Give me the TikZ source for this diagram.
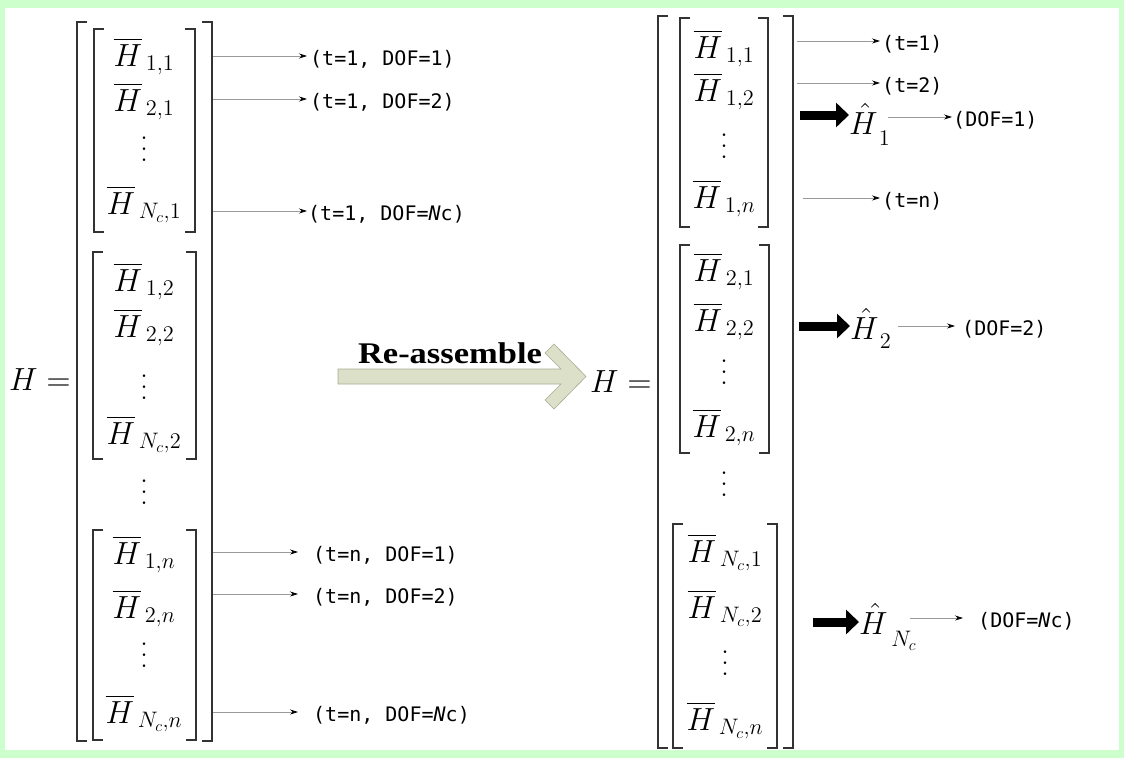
\documentclass[tikz,border=0pt]{standalone}
\usepackage{fontspec}
\usepackage{tikz}
\usetikzlibrary{arrows.meta,positioning}
\DeclareFontShape{OML}{cmm}{m}{it}{<-7>cmmi5 <7-10>cmmi7 <10-12>cmmi10 <12->cmmi12}{}
\DeclareFontShape{OMS}{cmsy}{m}{n}{<-7>cmsy5 <7-10>cmsy7 <10->cmsy10}{}
\DeclareFontShape{OT1}{cmr}{m}{n}{<-7>cmr5 <7-10>cmr7 <10-12>cmr10 <12->cmr12}{}
\DeclareFontShape{OMX}{cmex}{m}{n}{<->cmex10}{}
\newfontfamily\lblfont{DejaVu Sans Mono}
\newfontfamily\titlefont[FakeStretch=1.15]{Liberation Serif}
\definecolor{frame}{HTML}{CCFFCC}
\definecolor{band}{HTML}{DCE0C8}
\definecolor{bandline}{HTML}{A8AC96}
\definecolor{wire}{HTML}{9A9A9A}
\newcommand\vdd{\vbox{\baselineskip=11pt\lineskiplimit=0pt\hbox{.}\hbox{.}\hbox{.}}}

\begin{document}
\begin{tikzpicture}[x=1pt,y=-1pt,>=Latex,
    brk/.style={line width=1.3pt,draw=black!80},
    ent/.style={inner sep=0pt,anchor=base,font=\fontsize{32}{36}\selectfont},
    vd/.style={inner sep=0pt,font=\fontsize{32}{36}\selectfont},
    hatnode/.style={inner sep=0pt,anchor=base west,font=\fontsize{32}{36}\selectfont},
    lbl/.style={inner sep=0pt,anchor=west,font=\lblfont\fontsize{20}{24}\selectfont},
    wirearrow/.style={draw=wire,line width=0.7pt,-{Stealth[length=8pt,width=5pt,black]}},
    fat/.style={line width=9pt,-{Triangle[length=13pt,width=24pt]}}]
    \useasboundingbox (0,0) rectangle (1124,758);
    \fill[frame] (0,0) rectangle (1124,758);
    \fill[white] (5,8) rectangle (1119,750);

    % brackets
    \foreach \xl/\xr/\yt/\yb in {77/212/22/741, 94/195/29/232, 93/196/252/459, 93/196/530/740,
                                 658/793/16/748, 680/768/18/227, 680/769/245/453, 673/777/524/748} {
        \draw[brk] (\xl+10,\yt) -- (\xl,\yt) -- (\xl,\yb) -- (\xl+10,\yb);
        \draw[brk] (\xr-10,\yt) -- (\xr,\yt) -- (\xr,\yb) -- (\xr-10,\yb);
    }

    % left vector
    \node[ent] (lhs) at (40,390) {$H=$};
    \node[ent] (l11) at (144,66) {$\overline{H}_{\,1,1}$};
    \node[ent] (l21) at (144,111) {$\overline{H}_{\,2,1}$};
    \node[vd] (lv1) at (144,149) {\vdd};
    \node[ent] (lc1) at (144,214) {$\overline{H}_{\,N_c,1}$};
    \node[ent] (l12) at (144,291) {$\overline{H}_{\,1,2}$};
    \node[ent] (l22) at (144,337) {$\overline{H}_{\,2,2}$};
    \node[vd] (lv2) at (144,387) {\vdd};
    \node[ent] (lc2) at (144,444) {$\overline{H}_{\,N_c,2}$};
    \node[vd] (lvv) at (144,492) {\vdd};
    \node[ent] (l1n) at (144,564) {$\overline{H}_{\,1,n}$};
    \node[ent] (l2n) at (144,618) {$\overline{H}_{\,2,n}$};
    \node[vd] (lv3) at (144,655) {\vdd};
    \node[ent] (lcn) at (144,723) {$\overline{H}_{\,N_c,n}$};

    \coordinate (sa) at (213,56);
    \coordinate (sb) at (213,99);
    \coordinate (sc) at (213,211);
    \coordinate (sd) at (213,552);
    \coordinate (se) at (213,594);
    \coordinate (sf) at (213,712);
    \node[lbl] (ta) at (310,59) {(t=1, DOF=1)};
    \node[lbl] (tb) at (310,102) {(t=1, DOF=2)};
    \node[lbl] (tc) at (308,214) {(t=1, DOF=\textit{N}c)};
    \node[lbl] (td) at (313,555) {(t=n, DOF=1)};
    \node[lbl] (te) at (313,597) {(t=n, DOF=2)};
    \node[lbl] (tf) at (313,715) {(t=n, DOF=\textit{N}c)};
    \draw[wirearrow,shorten >=3pt] (sa) -- (sa -| ta.west);
    \draw[wirearrow,shorten >=3pt] (sb) -- (sb -| tb.west);
    \draw[wirearrow,shorten >=1pt] (sc) -- (sc -| tc.west);
    \draw[wirearrow,shorten >=15pt] (sd) -- (sd -| td.west);
    \draw[wirearrow,shorten >=15pt] (se) -- (se -| te.west);
    \draw[wirearrow,shorten >=15pt] (sf) -- (sf -| tf.west);

    % re-assemble arrow
    \filldraw[fill=band,draw=bandline,line width=0.6pt]
        (338,369) -- (561,369) -- (545,353) -- (554,344) -- (586,376.5)
        -- (554,409) -- (545,400) -- (561,384) -- (338,384) -- cycle;
    \node[font=\titlefont\bfseries\fontsize{30}{34}\selectfont,anchor=base,inner sep=0pt]
        (title) at (450,363) {Re-assemble};

    % right vector
    \node[ent] (rhs) at (621,392) {$H=$};
    \node[ent] (r11) at (724,58) {$\overline{H}_{\,1,1}$};
    \node[ent] (r12) at (724,101) {$\overline{H}_{\,1,2}$};
    \node[vd] (rv1) at (724,146) {\vdd};
    \node[ent] (r1n) at (724,208) {$\overline{H}_{\,1,n}$};
    \node[ent] (r21) at (724,281) {$\overline{H}_{\,2,1}$};
    \node[ent] (r22) at (724,331) {$\overline{H}_{\,2,2}$};
    \node[vd] (rv2) at (724,372) {\vdd};
    \node[ent] (r2n) at (724,437) {$\overline{H}_{\,2,n}$};
    \node[vd] (rvv) at (724,484) {\vdd};
    \node[ent] (rc1) at (725,562) {$\overline{H}_{\,N_c,1}$};
    \node[ent] (rc2) at (725,618) {$\overline{H}_{\,N_c,2}$};
    \node[vd] (rv3) at (725,663) {\vdd};
    \node[ent] (rcn) at (725,730) {$\overline{H}_{\,N_c,n}$};

    \coordinate (ua) at (797,41);
    \coordinate (ub) at (797,83);
    \coordinate (uc) at (803,198);
    \node[lbl] (va) at (882,44) {(t=1)};
    \node[lbl] (vb) at (882,86) {(t=2)};
    \node[lbl] (vc) at (882,201) {(t=n)};
    \draw[wirearrow,shorten >=2pt] (ua) -- (ua -| va.west);
    \draw[wirearrow,shorten >=2pt] (ub) -- (ub -| vb.west);
    \draw[wirearrow,shorten >=2pt] (uc) -- (uc -| vc.west);

    % per-DOF blocks
    \node[hatnode] (h1) at (849,134) {$\hat{H}_{\,\raisebox{-7pt}{$\scriptstyle 1$}}$};
    \node[hatnode] (h2) at (850,339) {$\hat{H}_{\,\raisebox{-5pt}{$\scriptstyle 2$}}$};
    \node[hatnode] (hc) at (859,634) {$\hat{H}_{\;\raisebox{-8pt}{$\scriptstyle N_c$}}$};
    \coordinate (f1) at (800,115);
    \coordinate (f2) at (799,326);
    \coordinate (fc) at (813,622);
    \draw[fat] (f1) -- (f1 -| h1.west);
    \draw[fat] (f2) -- (f2 -| h2.west);
    \draw[fat] (fc) -- (fc -| hc.west);

    \coordinate (o1) at (888,117);
    \coordinate (o2) at (898,326);
    \coordinate (oc) at (910,618);
    \node[lbl] (d1) at (953,120) {(DOF=1)};
    \node[lbl] (d2) at (962,329) {(DOF=2)};
    \node[lbl] (dc) at (978,621) {(DOF=\textit{N}c)};
    \draw[wirearrow,shorten >=1pt] (o1) -- (o1 -| d1.west);
    \draw[wirearrow,shorten >=7pt] (o2) -- (o2 -| d2.west);
    \draw[wirearrow,shorten >=15pt] (oc) -- (oc -| dc.west);
\end{tikzpicture}
\end{document}
